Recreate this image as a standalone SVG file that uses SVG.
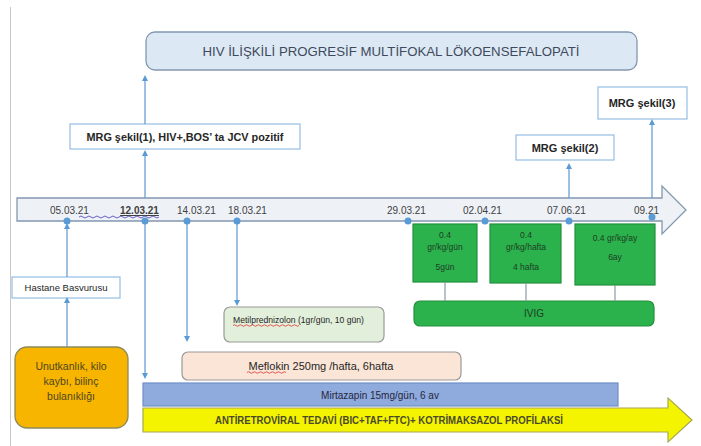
<svg xmlns="http://www.w3.org/2000/svg" width="701" height="446" viewBox="0 0 701 446">
<defs>
<marker id="ah" viewBox="0 0 8 8" refX="4" refY="4" markerWidth="6" markerHeight="6" orient="auto" markerUnits="userSpaceOnUse">
<path d="M0,0 L8,4 L0,8 z" fill="#5b9bd5"/>
</marker>
<style>
text{font-family:"Liberation Sans",Arial,sans-serif;}
.conn{stroke:#6a9fd4;stroke-width:1.3;fill:none;}
.dot{fill:#5b9bd5;}
.date{font-size:10px;fill:#404040;}
.box{fill:#fff;stroke:#9dc3e6;stroke-width:1.3;}
.bold{font-weight:bold;fill:#262626;}
.green{fill:#2bb24c;stroke:#22903d;stroke-width:1.2;}
.gt{font-size:8.5px;fill:#1e3d24;text-anchor:middle;}
.mid{text-anchor:middle;}
</style>
</defs>
<rect width="701" height="446" fill="#fff"/>
<line x1="10.5" y1="7" x2="10.5" y2="446" stroke="#c9c9c9" stroke-width="1"/>

<g id="title">
<rect x="146" y="32" width="491" height="38" rx="9" fill="#dce8f4" stroke="#8497b0" stroke-width="1.3"/>
<text x="391" y="56" class="mid" font-size="13" fill="#3e4a5c" textLength="377" lengthAdjust="spacingAndGlyphs">HIV İLİŞKİLİ PROGRESİF MULTİFOKAL LÖKOENSEFALOPATİ</text>
</g>

<g id="timeline">
<path d="M17,198 H662 V186 L686,210 L662,234 V221 H17 Z" fill="#eef2f7" stroke="#8497b0" stroke-width="1.3"/>
<text x="50" y="214" class="date">05.03.21</text>
<text x="120" y="214" class="date" font-weight="bold" text-decoration="underline">12.03.21</text>
<text x="177" y="214" class="date">14.03.21</text>
<text x="228" y="214" class="date">18.03.21</text>
<text x="387" y="214" class="date">29.03.21</text>
<text x="463" y="214" class="date">02.04.21</text>
<text x="547" y="214" class="date">07.06.21</text>
<text x="634" y="214" class="date">09.21</text>
<path d="M79,217 q2,-2 4,0 t4,0 t4,0 t4,0 t4,0 t4,0 t4,0 t4,0 t4,0 t4,0 t4,0 t4,0 t4,0 t4,0 t4,0 t4,0 t4,0 t4,0 t4,0 t4,0" fill="none" stroke="#5b4fc0" stroke-width="0.9"/>
</g>

<g id="mrg1">
<rect x="70" y="124" width="230" height="25" class="box"/>
<text x="185" y="141" class="mid bold" font-size="11" textLength="197" lengthAdjust="spacingAndGlyphs">MRG şekil(1), HIV+,BOS’ ta JCV pozitif</text>
</g>

<g id="mrg2">
<rect x="516" y="135" width="98" height="25" class="box"/>
<text x="565" y="152" class="mid bold" font-size="11">MRG şekil(2)</text>
</g>

<g id="mrg3">
<rect x="598" y="87" width="89" height="32" class="box"/>
<text x="642" y="107" class="mid bold" font-size="11">MRG şekil(3)</text>
</g>

<g id="hastane">
<rect x="12" y="277" width="108" height="21" class="box"/>
<text x="66" y="291" class="mid" font-size="9.5" fill="#262626">Hastane Basvurusu</text>
</g>

<g id="unutkanlik">
<rect x="15" y="347" width="113" height="81" rx="12" fill="#f7b500" stroke="#8c8a5a" stroke-width="1.3"/>
<text class="mid" font-size="10.5" fill="#4f4520"><tspan x="71" y="370">Unutkanlık, kilo</tspan><tspan x="71" y="385">kaybı, bilinç</tspan><tspan x="71" y="400">bulanıklığı</tspan></text>
</g>

<g id="ivig1">
<rect x="413" y="224" width="64" height="58" class="green"/>
<text class="gt"><tspan x="445" y="238">0.4</tspan><tspan x="445" y="250">gr/kg/gün</tspan><tspan x="445" y="270">5gün</tspan></text>
</g>
<g id="ivig2">
<rect x="490" y="224" width="71" height="59" class="green"/>
<text class="gt"><tspan x="526" y="238">0.4</tspan><tspan x="526" y="250">gr/kg/hafta</tspan><tspan x="526" y="270">4 hafta</tspan></text>
</g>
<g id="ivig3">
<rect x="575" y="224" width="80" height="61" class="green"/>
<text class="gt"><tspan x="615" y="241">0.4 gr/kg/ay</tspan><tspan x="615" y="260">6ay</tspan></text>
</g>
<g id="ivig">
<rect x="414" y="301" width="240" height="25" rx="6" class="green"/>
<text x="534" y="317" class="mid" font-size="10" fill="#1e3d24">IVIG</text>
</g>

<g id="metilprednizolon">
<rect x="224" y="307" width="160" height="35" rx="6" fill="#e2efda" stroke="#9a9a9a" stroke-width="1.2"/>
<text x="233" y="323" font-size="8.6" fill="#262626">Metilprednizolon (1gr/gün, 10 gün)</text>
<path d="M233,325.5 q1.5,-1.5 3,0 t3,0 t3,0 t3,0 t3,0 t3,0 t3,0 t3,0 t3,0 t3,0 t3,0 t3,0 t3,0 t3,0 t3,0 t3,0 t3,0 t3,0 t3,0 t3,0 t3,0 t3,0" fill="none" stroke="#e03030" stroke-width="0.8"/>
</g>

<g id="meflokin">
<rect x="182" y="352" width="279" height="28" rx="6" fill="#fbe5d6" stroke="#9a9a9a" stroke-width="1.2"/>
<text x="321" y="370" class="mid" font-size="11" fill="#262626">Meflokin 250mg /hafta, 6hafta</text>
<path d="M247,372.5 q1.5,-1.5 3,0 t3,0 t3,0 t3,0 t3,0 t3,0 t3,0 t3,0 t3,0 t3,0 t3,0 t3,0 t3,0" fill="none" stroke="#e03030" stroke-width="0.8"/>
</g>

<g id="mirtazapin">
<rect x="143" y="383" width="475" height="23" fill="#8faadc" stroke="#6f8fc8" stroke-width="1.2"/>
<text x="380" y="398.5" class="mid" font-size="10" fill="#262640">Mirtazapin 15mg/gün, 6 av</text>
</g>

<g id="antiretroviral">
<path d="M143,408 H668 V398 L692,420 L668,442 V432 H143 Z" fill="#f4f400" stroke="#a8a850" stroke-width="1.2"/>
<text x="389" y="424" class="mid" font-size="11" font-weight="bold" fill="#4a4a2a" textLength="348" lengthAdjust="spacingAndGlyphs">ANTİRETROVİRAL TEDAVİ (BIC+TAF+FTC)+ KOTRİMAKSAZOL PROFİLAKSİ</text>
</g>

<g id="connectors">
<line x1="145" y1="124" x2="145" y2="78" class="conn" marker-end="url(#ah)"/>
<line x1="145" y1="198" x2="145" y2="153" class="conn" marker-end="url(#ah)"/>
<line x1="67" y1="277" x2="67" y2="226" class="conn" marker-end="url(#ah)"/>
<line x1="67" y1="347" x2="67" y2="300" class="conn" marker-end="url(#ah)"/>
<line x1="145" y1="221" x2="145" y2="376" class="conn" marker-end="url(#ah)"/>
<line x1="187" y1="221" x2="187" y2="339" class="conn" marker-end="url(#ah)"/>
<line x1="237" y1="221" x2="237" y2="303" class="conn" marker-end="url(#ah)"/>
<line x1="569" y1="198" x2="569" y2="166" class="conn" marker-end="url(#ah)"/>
<line x1="652" y1="198" x2="652" y2="122" class="conn" marker-end="url(#ah)"/>
<line x1="445" y1="282" x2="445" y2="301" stroke="#8a9aa8" stroke-width="1.2"/>
<line x1="526" y1="283" x2="526" y2="301" stroke="#8a9aa8" stroke-width="1.2"/>
<line x1="615" y1="285" x2="615" y2="301" stroke="#8a9aa8" stroke-width="1.2"/>
<circle cx="67" cy="221" r="3.5" class="dot"/>
<circle cx="145" cy="221" r="3.5" class="dot"/>
<circle cx="187" cy="221" r="3.5" class="dot"/>
<circle cx="237" cy="221" r="3.5" class="dot"/>
<circle cx="408" cy="221" r="3.5" class="dot"/>
<circle cx="485" cy="221" r="3.5" class="dot"/>
<circle cx="569" cy="221" r="3.5" class="dot"/>
<circle cx="652" cy="217" r="3.5" class="dot"/>
</g>
</svg>
